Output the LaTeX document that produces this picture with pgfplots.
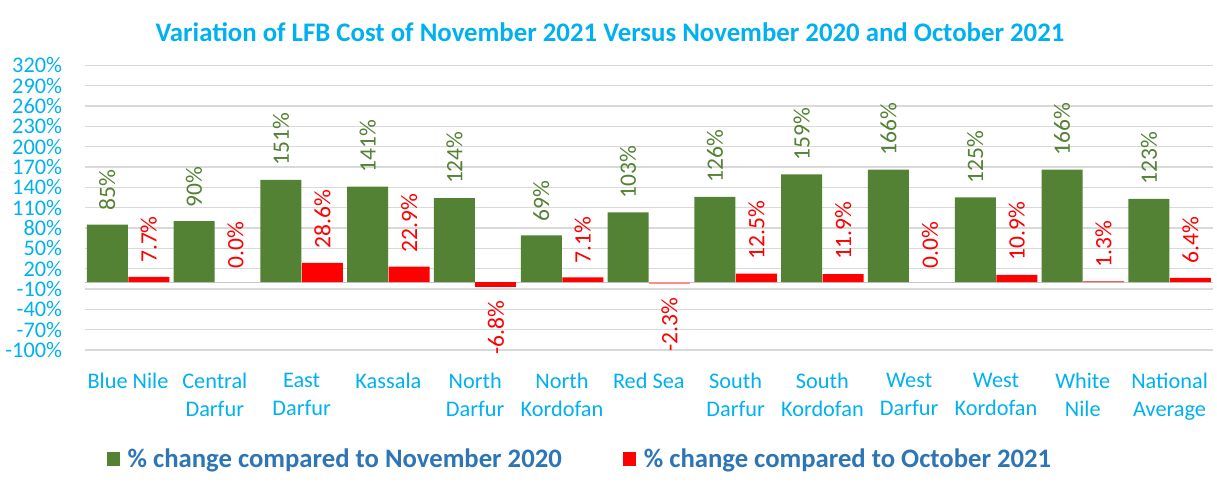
\documentclass[border=0pt]{standalone}
\usepackage{pgfplots}
\pgfplotsset{compat=1.18}
\usepackage{fontspec}
\setmainfont{Carlito}
\definecolor{titlecyan}{HTML}{00B0F0}
\definecolor{barGreen}{HTML}{548235}
\definecolor{barRed}{HTML}{FF0000}
\definecolor{barPink}{HTML}{FF8B8B}
\definecolor{legblue}{HTML}{2E75B6}
\definecolor{gridgray}{HTML}{D9D9D9}
\begin{document}
\begin{tikzpicture}[x=1pt,y=1pt]
\useasboundingbox (0,0) rectangle (1217,487);
\node[font=\fontsize{26.8}{30}\selectfont\bfseries, text=titlecyan] at (610,455) {Variation of LFB Cost of November 2021 Versus November 2020 and October 2021};
\begin{axis}[
  at={(84.6pt,137pt)}, anchor=south west,
  scale only axis, width=1128.4pt, height=284.7pt,
  xmin=-0.5, xmax=12.5, ymin=-100, ymax=320,
  ytick={-100,-70,...,320},
  yticklabel={\pgfmathprintnumber{\tick}\%},
  /pgf/number format/assume math mode=true,
  xtick={0,...,12},
  xticklabels={Blue Nile,{Central\\Darfur},{East\\Darfur},Kassala,{North\\Darfur},{North\\Kordofan},Red Sea,{South\\Darfur},{South\\Kordofan},{West\\Darfur},{West\\Kordofan},{White\\Nile},{National\\Average}},
  xticklabel style={align=center, text=titlecyan, font=\fontsize{22.3}{28}\selectfont, anchor=north, yshift=-15pt},
  yticklabel style={text=titlecyan, font=\fontsize{22.3}{26}\selectfont, xshift=-19pt},
  axis line style={draw=none},
  tick style={draw=none},
  ymajorgrids,
  major grid style={gridgray, line width=1.3pt},
  extra y ticks={0},
  extra y tick labels={},
  extra y tick style={grid=major, major grid style={gridgray!80!gray, line width=1.3pt}},
  ybar, bar width=41pt,
  legend style={at={(0.439,-0.383)}, anchor=center, draw=none, legend columns=2,
    font=\fontsize{26.7}{30}\selectfont\bfseries, text=legblue,
    /tikz/every odd column/.append style={column sep=6pt},
    /tikz/every even column/.append style={column sep=59pt}},
  legend image code/.code={\fill[#1,draw=none] (0pt,-7pt) rectangle (13pt,7pt);},
  clip=false,
]
\addplot[fill=barGreen, draw=none, bar shift=-20.75pt,
  nodes near coords={\pgfmathprintnumber[fixed,precision=0]{\pgfplotspointmeta}\%},
  every node near coord/.append style={rotate=90, anchor=west, text=barGreen, font=\fontsize{23.5}{26}\selectfont, inner xsep=14pt}]
  coordinates {(0,85) (1,90) (2,151) (3,141) (4,124) (5,69) (6,103) (7,126) (8,159) (9,166) (10,125) (11,166) (12,123)};
\addlegendentry{\% change compared to November 2020}
\addplot[fill=barRed, draw=none, bar shift=20.75pt,
  nodes near coords={\pgfmathprintnumber[fixed,fixed zerofill,precision=1]{\pgfplotspointmeta}\%},
  every node near coord/.append style={rotate=90, anchor=west, text=barRed, font=\fontsize{23.5}{26}\selectfont, inner xsep=14pt}]
  coordinates {(0,7.7) (2,28.6) (3,22.9) (5,7.1) (7,12.5) (8,11.9) (10,10.9) (11,1.3) (12,6.4)};
\addlegendentry{\% change compared to October 2021}
\addplot[fill=none, draw=none, bar shift=20.75pt, forget plot,
  nodes near coords={\pgfmathprintnumber[fixed,fixed zerofill,precision=1]{\pgfplotspointmeta}\%},
  every node near coord/.append style={rotate=90, anchor=west, text=barRed, font=\fontsize{23.5}{26}\selectfont, inner xsep=14pt}]
  coordinates {(1,0.0) (9,0.0)};
\addplot[fill=barRed, draw=none, bar shift=20.75pt, forget plot,
  nodes near coords={\pgfmathprintnumber[fixed,fixed zerofill,precision=1]{\pgfplotspointmeta}\%},
  every node near coord/.append style={rotate=90, anchor=east, text=barRed, font=\fontsize{23.5}{26}\selectfont, inner xsep=14pt}]
  coordinates {(4,-6.8)};
\addplot[fill=barPink, draw=none, bar shift=20.75pt, forget plot,
  nodes near coords={\pgfmathprintnumber[fixed,fixed zerofill,precision=1]{\pgfplotspointmeta}\%},
  every node near coord/.append style={rotate=90, anchor=east, text=barRed, font=\fontsize{23.5}{26}\selectfont, inner xsep=14pt}]
  coordinates {(6,-2.3)};
\end{axis}
\end{tikzpicture}
\end{document}
